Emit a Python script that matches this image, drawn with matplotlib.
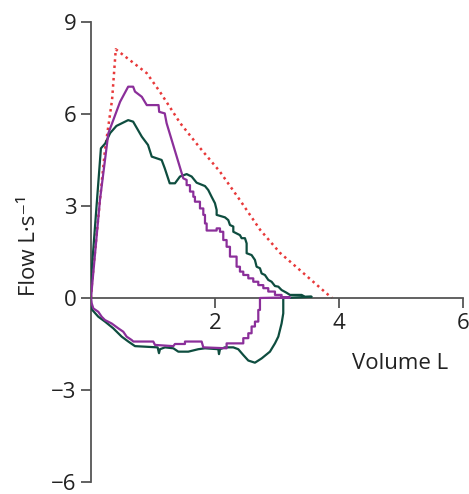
import matplotlib
matplotlib.use("Agg")
import matplotlib.pyplot as plt

plt.rcParams['font.family'] = ['Open Sans', 'DejaVu Sans']

# predicted (dotted red)
pred_v = [0, 0.016, 0.145, 0.226, 0.34, 0.40, 0.90, 1.11, 1.44, 1.76, 2.08, 2.40, 2.73, 3.05, 3.37, 3.80, 3.89]
pred_f = [0, 0.49, 3.20, 4.83, 6.46, 8.11, 7.33, 6.73, 5.70, 4.89, 4.12, 3.20, 2.22, 1.47, 0.91, 0.15, 0.0]

# green loop: expiration
green_ex_v = [0.0, 0.16, 0.23, 0.31, 0.41, 0.60, 0.68, 0.82, 0.92, 0.98, 1.14, 1.19, 1.27, 1.355,
              1.435, 1.543, 1.624, 1.704, 1.839, 1.892, 1.946, 2.000, 2.027, 2.027, 2.161, 2.215, 2.242,
              2.296, 2.296, 2.403, 2.430, 2.484, 2.511, 2.511, 2.591, 2.645, 2.672, 2.726, 2.753, 2.806,
              2.860, 2.914, 2.968, 3.022, 3.075, 3.156, 3.210, 3.398, 3.452, 3.56, 3.102]
green_ex_f = [0.59, 4.88, 5.04, 5.38, 5.61, 5.80, 5.75, 5.26, 4.99, 4.61, 4.50, 4.23, 3.74, 3.74,
              3.96, 4.04, 3.96, 3.76, 3.65, 3.52, 3.30, 3.09, 2.87, 2.71, 2.63, 2.54, 2.38,
              2.33, 2.16, 2.05, 1.95, 1.95, 1.78, 1.46, 1.40, 1.24, 1.02, 0.97, 0.80, 0.75,
              0.59, 0.53, 0.39, 0.37, 0.26, 0.17, 0.10, 0.10, 0.04, 0.04, 0.0]
# green loop: inspiration
green_in_v = [3.102, 3.102, 3.075, 3.022, 2.968, 2.887, 2.753, 2.645, 2.538, 2.457, 2.376, 2.296, 2.161,
              2.081, 2.065, 2.054, 1.839, 1.731, 1.570, 1.409, 1.328, 1.194, 1.113, 1.097, 1.075,
              0.710, 0.602, 0.495, 0.360, 0.226, 0.118, 0.021, 0.0, 0.0]
green_in_f = [0.0, -0.50, -0.83, -1.26, -1.48, -1.75, -1.97, -2.11, -2.04, -1.86, -1.67, -1.61, -1.61,
              -1.67, -1.83, -1.67, -1.64, -1.67, -1.75, -1.75, -1.64, -1.61, -1.67, -1.80, -1.61,
              -1.57, -1.42, -1.26, -0.99, -0.77, -0.61, -0.39, -0.23, 0.59]

# purple loop: expiration
purple_ex_v = [0.0, 0.145, 0.28, 0.47, 0.60, 0.68, 0.71, 0.82, 0.90, 1.09, 1.10, 1.19, 1.22, 1.489,
               1.543, 1.543, 1.597, 1.597, 1.651, 1.651, 1.677, 1.677, 1.758, 1.758, 1.812, 1.812,
               1.839, 1.839, 1.866, 1.866, 2.027, 2.027, 2.081, 2.081, 2.134, 2.134, 2.188, 2.188,
               2.242, 2.242, 2.349, 2.349, 2.403, 2.403, 2.457, 2.457, 2.538, 2.538, 2.618, 2.618,
               2.699, 2.699, 2.780, 2.780, 2.860, 2.860, 2.968, 2.968, 3.075, 3.075, 3.210, 2.726]
purple_ex_f = [0.0, 3.20, 5.37, 6.40, 6.89, 6.89, 6.73, 6.56, 6.29, 6.29, 6.07, 6.02, 5.70, 3.90,
               3.85, 3.68, 3.68, 3.47, 3.47, 3.30, 3.30, 3.14, 3.14, 2.92, 2.92, 2.71,
               2.71, 2.43, 2.43, 2.20, 2.20, 2.27, 2.27, 2.16, 2.16, 1.89, 1.89, 1.67,
               1.67, 1.35, 1.35, 1.02, 1.02, 0.86, 0.86, 0.75, 0.75, 0.64, 0.64, 0.53,
               0.53, 0.42, 0.42, 0.32, 0.32, 0.21, 0.21, 0.10, 0.10, 0.02, 0.02, 0.0]
# purple loop: inspiration
purple_in_v = [2.726, 2.726, 2.699, 2.699, 2.645, 2.645, 2.591, 2.591, 2.538, 2.538, 2.457, 2.457,
               2.188, 2.188, 1.812, 1.785, 1.516, 1.516, 1.355, 1.328, 1.032, 1.005, 0.683, 0.656,
               0.575, 0.521, 0.441, 0.333, 0.226, 0.172, 0.118, 0.038, 0.011, 0.0]
purple_in_f = [0.0, -0.39, -0.39, -0.77, -0.77, -0.93, -0.93, -1.15, -1.15, -1.31, -1.31, -1.48,
               -1.48, -1.64, -1.61, -1.42, -1.42, -1.50, -1.50, -1.57, -1.53, -1.42, -1.42, -1.37,
               -1.26, -1.10, -0.99, -0.83, -0.72, -0.61, -0.45, -0.34, -0.17, 0.0]

xticks = [2, 4, 6]
yticks = [-6, -3, 0, 3, 6, 9]

fig = plt.figure(figsize=(4.69, 4.94), dpi=100)
ax = fig.add_axes([0.194, 0.0243, 0.793, 0.9312])

ax.plot(pred_v, pred_f, color='#e8393a', lw=1.8, ls=(0, (1, 1.5)), zorder=2)
ax.plot(green_ex_v + green_in_v, green_ex_f + green_in_f, color='#0e4d3f', lw=1.6, zorder=3)
ax.plot(purple_ex_v + purple_in_v, purple_ex_f + purple_in_f, color='#8b2f9a', lw=1.6, zorder=4)

ax.set_xlim(0, 6)
ax.set_ylim(-6, 9)
ax.set_xticks(xticks)
ax.set_yticks(yticks)

for s in ['top', 'right']:
    ax.spines[s].set_visible(False)
ax.spines['bottom'].set_position(('data', 0))
for s in ['left', 'bottom']:
    ax.spines[s].set_color('#555555')
    ax.spines[s].set_linewidth(1.3)
ax.tick_params(colors='#555555', width=1.3, length=7, labelsize=16, labelcolor='#222222')
ax.tick_params(axis='x', pad=4)

ax.text(4.98, -2.12, 'Volume L', ha='center', va='center', fontsize=16, color='#222222')
ax.text(-0.164, 0.513, 'Flow L·s⁻¹', rotation=90, ha='center', va='center',
        fontsize=16, color='#222222', transform=ax.transAxes)

fig.savefig('out.png', dpi=100)
